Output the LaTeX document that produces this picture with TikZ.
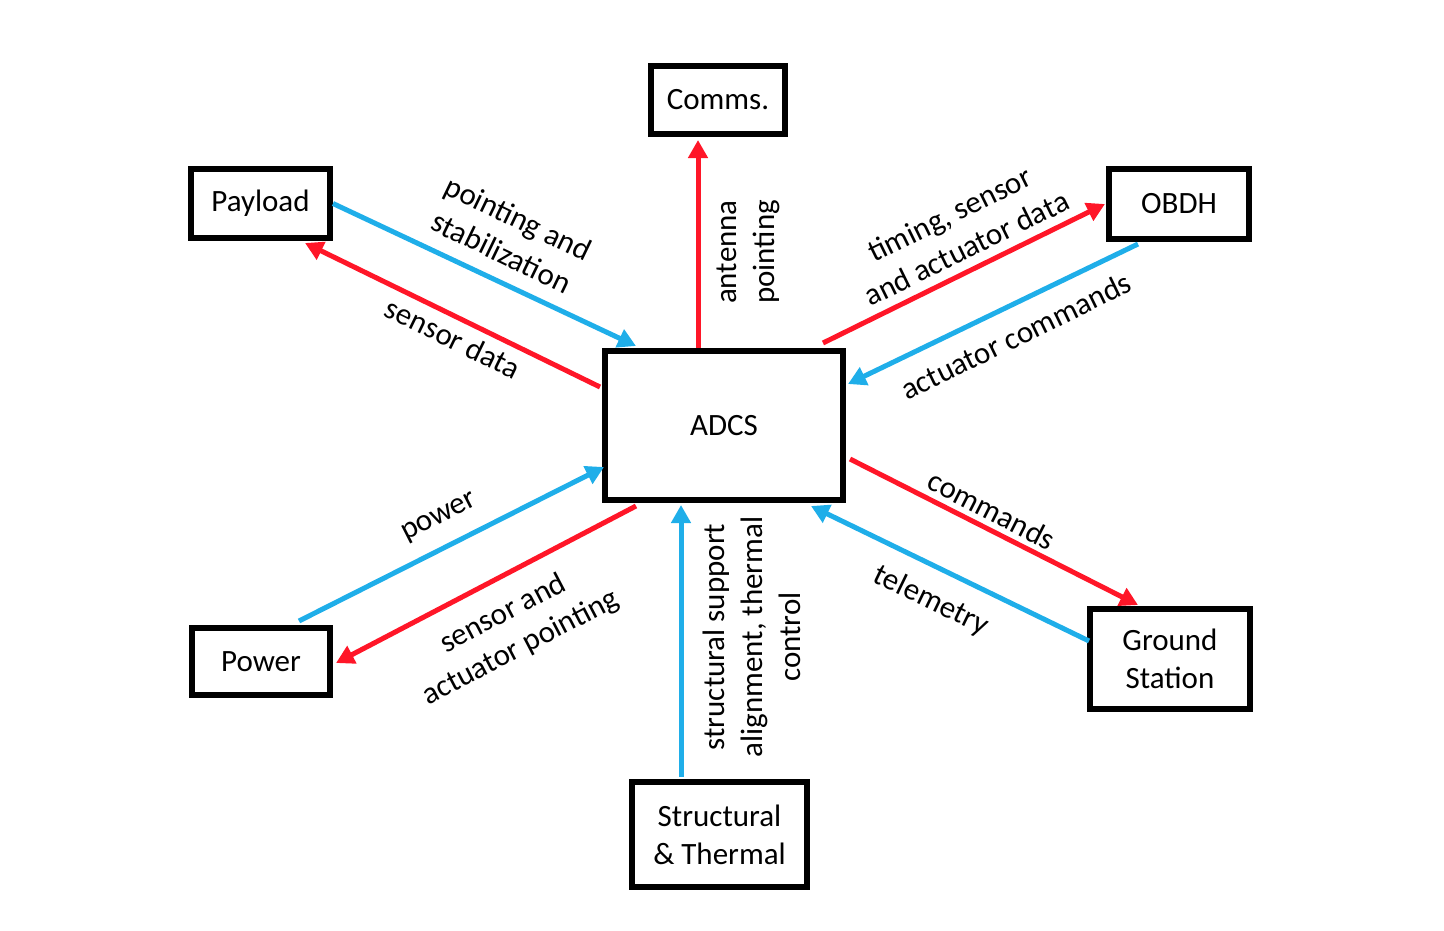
\documentclass[tikz,border=0pt]{standalone}
\usepackage{fontspec}
\setmainfont{Carlito}
\usetikzlibrary{arrows.meta,calc}
\definecolor{ared}{HTML}{FF1628}
\definecolor{ablue}{HTML}{1FAEE9}
\tikzset{
  box/.style={draw=black, line width=6pt, inner sep=0pt, align=center, font=\fontsize{31}{38}\selectfont},
  lbl/.style={inner sep=0pt, align=center, font=\fontsize{31}{38}\selectfont},
  redarr/.style={draw=ared, line width=5pt, -{Triangle[length=18pt,width=19pt]}},
  bluearr/.style={draw=ablue, line width=5pt, -{Triangle[length=18pt,width=19pt]}}
}
\begin{document}
\begin{tikzpicture}[x=1pt,y=-1pt]
\useasboundingbox (0,0) rectangle (1444,930);
% boxes
\node[box, minimum width=139pt, minimum height=69pt] (payload) at (260.5,203.5) {Payload};
\node[box, minimum width=134pt, minimum height=68pt] (comms) at (718,100) {Comms.};
\node[box, minimum width=140pt, minimum height=70pt] (obdh) at (1179,204) {OBDH};
\node[box, minimum width=238pt, minimum height=149pt] (adcs) at (724,425.5) {ADCS};
\node[box, minimum width=175pt, minimum height=105pt] (struct) at (719.5,834.5) {Structural\\\& Thermal};
\node[box, minimum width=160pt, minimum height=100pt] (ground) at (1170,659) {Ground\\Station};
\node[box, minimum width=138pt, minimum height=67pt] (power) at (261,661.5) {Power};
% connectors
\draw[bluearr] (payload.east) -- ($(adcs.north west)+(34,-2)$);
\draw[redarr] ($(adcs.west)+(-2,-38.5)$) -- ($(payload.south)+(44.5,2)$);
\draw[redarr] ($(adcs.north)+(-26,0)$) -- ($(comms.south)+(-20,3)$);
\draw[redarr] ($(adcs.north east)+(-23,-5)$) -- ($(obdh.west)+(-1,0)$);
\draw[bluearr] ($(obdh.south)+(-41,2)$) -- ($(adcs.east)+(2,-41.5)$);
\draw[redarr] ($(adcs.east)+(4,33.5)$) -- ($(ground.north)+(-32,-1)$);
\draw[bluearr] ($(ground.west)+(2,-18)$) -- ($(adcs.south east)+(-35,3)$);
\draw[bluearr] ($(struct.north)+(-38.5,-2)$) -- ($(adcs.south)+(-43,2)$);
\draw[bluearr] ($(power.north)+(38,-4)$) -- ($(adcs.west)+(2,41.5)$);
\draw[redarr] ($(adcs.south west)+(34,3)$) -- ($(power.east)+(3,1.5)$);
% labels
\node[lbl, rotate=-25.8] (l1) at (510,235) {pointing and\\stabilization};
\node[lbl, rotate=-26] (l2) at (453,338) {sensor data};
\node[lbl, rotate=90] (l3) at (748,252) {antenna\\pointing};
\node[lbl, rotate=26.2] (l4) at (958,231) {timing, sensor\\and actuator data};
\node[lbl, rotate=26] (l5) at (1016,336) {actuator commands};
\node[lbl, rotate=-27.1] (l6) at (992,510) {commands};
\node[lbl, rotate=-25.9] (l7) at (931,601) {telemetry};
\node[lbl, rotate=90] (l8) at (752,637) {structural support\\alignment, thermal\\control};
\node[lbl, rotate=27] (l9) at (440,518) {power};
\node[lbl, rotate=27.6] (l10) at (512,631) {sensor and\\actuator pointing};
\end{tikzpicture}
\end{document}
